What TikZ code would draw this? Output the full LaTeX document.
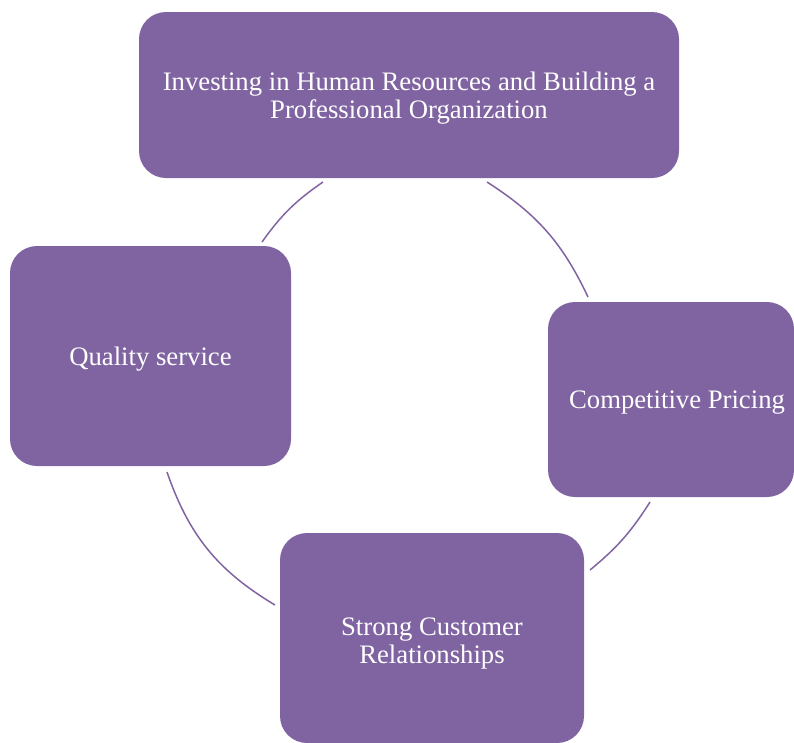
\documentclass[tikz,border=0pt]{standalone}
\usepackage{fontspec}
\setmainfont{Liberation Serif}
\definecolor{boxpurple}{HTML}{8064A2}
\begin{document}
\begin{tikzpicture}[x=1pt,y=-1pt,
  cyclebox/.style={fill=boxpurple, draw=none, rounded corners=27pt, inner sep=0pt},
  boxtext/.style={text=white, align=center, inner sep=0pt,
    font=\fontsize{26.7}{28}\selectfont},
  cyclearc/.style={draw=boxpurple, line width=1.5pt}]
\useasboundingbox (0,0) rectangle (794,742);
\node[cyclebox, minimum width=540pt, minimum height=166pt] (top) at (409,95) {};
\node[cyclebox, minimum width=246pt, minimum height=195pt] (right) at (671,399.5) {};
\node[cyclebox, minimum width=304pt, minimum height=210pt] (bottom) at (432,638) {};
\node[cyclebox, minimum width=281pt, minimum height=220pt] (left) at (150.5,356) {};
\node[boxtext] (toptext) at ([yshift=-3pt]top.center)
  {Investing in Human Resources and Building a\\Professional Organization};
\node[boxtext] (righttext) at ([xshift=6pt,yshift=-3pt]right.center)
  {Competitive Pricing};
\node[boxtext] (bottomtext) at ([yshift=-5.5pt]bottom.center)
  {Strong Customer\\Relationships};
\node[boxtext] (lefttext) at ([yshift=-3pt]left.center)
  {Quality service};
\coordinate (a1s) at (323,182);
\coordinate (a1e) at (262,242);
\coordinate (a2s) at (588,297);
\coordinate (a2e) at (487,182);
\coordinate (a3s) at (590,570);
\coordinate (a3e) at (650,502);
\coordinate (a4s) at (167,472);
\coordinate (a4e) at (275,605);
\draw[cyclearc] (a1s) to[bend right=10] (a1e);
\draw[cyclearc] (a2s) to[bend right=16] (a2e);
\draw[cyclearc] (a3s) to[bend right=9] (a3e);
\draw[cyclearc] (a4s) to[bend right=20] (a4e);
\end{tikzpicture}
\end{document}
